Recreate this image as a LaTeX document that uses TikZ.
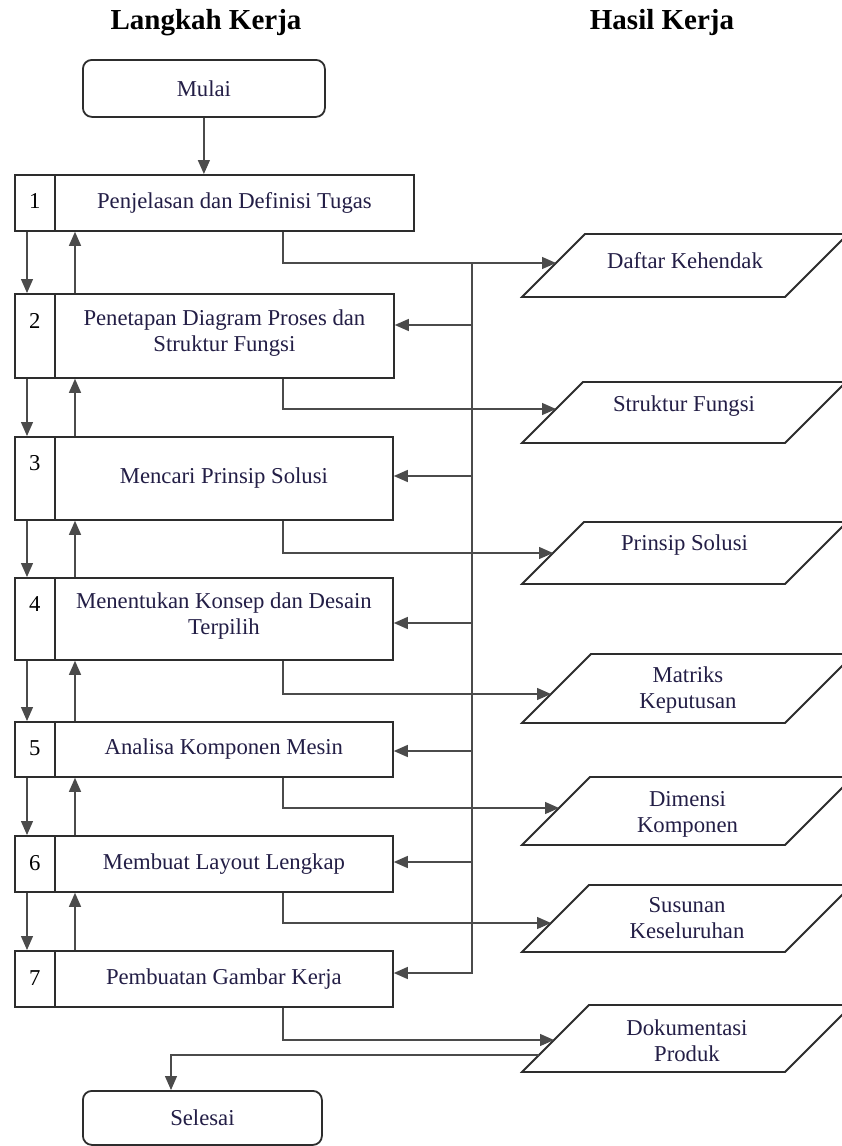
\documentclass[tikz,border=0pt]{standalone}
\usepackage{fontspec}
\setmainfont{Liberation Serif}
\usetikzlibrary{arrows.meta,calc}
\definecolor{txt}{RGB}{35,30,70}
\definecolor{ln}{RGB}{75,75,75}
\definecolor{bd}{RGB}{45,45,45}
\tikzset{
  boxline/.style={draw=bd, line width=1.8pt, line join=miter},
  bodyfont/.style={font=\fontsize{22.7}{26}\selectfont},
  numbox/.style={boxline, rectangle, minimum width=40pt, inner sep=0pt, anchor=north west, text=black, bodyfont},
  stepbox/.style={boxline, rectangle, inner sep=0pt, anchor=north west, align=center, text=txt, bodyfont},
  termbox/.style={boxline, rectangle, rounded corners=9pt, inner sep=0pt, anchor=north west, text=txt, bodyfont},
  htext/.style={align=center, text=txt, bodyfont},
  conn/.style={draw=ln, line width=1.3pt},
  arr/.style={conn, -{Triangle[length=14pt,width=12pt]}},
  titletext/.style={font=\fontsize{29}{34}\selectfont\bfseries, anchor=base, text=black},
}
\newcommand\hasil[6]{%
  \pgfmathsetmacro\hh{#3-#2}
  \draw[boxline] (522,#3) -- (785,#3) -- ({785+\hh},#2) -- ({522+\hh},#2) -- cycle;
  \node[htext] (#1) at ({(1307+\hh)/2},#4) {#6};
  \coordinate (#1in) at ({522+#3-#5},#5);
}
\newcommand\langkah[7]{% name, top, bottom, right, number, text, number text depth
  \node[numbox, minimum height={#3-#2}, text depth=#7] (n#1) at (14,#2) {#5};
  \node[stepbox, minimum width={#4-54}, minimum height={#3-#2}] (b#1) at (54,#2) {#6};
}
\begin{document}
\begin{tikzpicture}[x=1pt,y=-1pt]
\useasboundingbox[fill=white] (0,0) rectangle (842,1146);

\node[titletext] (t1) at (206,29) {Langkah Kerja};
\node[titletext] (t2) at (662,29) {Hasil Kerja};

\node[termbox, minimum width=242pt, minimum height=57pt] (mulai) at (82,59) {Mulai};

\langkah{1}{174}{230}{413}{1}{Penjelasan dan Definisi Tugas}{4pt}
\langkah{2}{293}{377}{393}{2}{Penetapan Diagram Proses dan\\Struktur Fungsi\rule[-10pt]{0pt}{0pt}}{30pt}
\langkah{3}{436}{519}{392}{3}{Mencari Prinsip Solusi}{30pt}
\langkah{4}{577}{659}{392}{4}{Menentukan Konsep dan Desain\\Terpilih\rule[-10pt]{0pt}{0pt}}{30pt}
\langkah{5}{721}{776}{392}{5}{Analisa Komponen Mesin}{2pt}
\langkah{6}{835}{891}{392}{6}{Membuat Layout Lengkap}{2pt}
\langkah{7}{950}{1006}{392}{7}{Pembuatan Gambar Kerja}{2pt}

\node[termbox, minimum width=239pt, minimum height=54pt] (selesai) at (82,1090) {Selesai};

\hasil{p1}{234}{297}{261}{263}{Daftar Kehendak}
\hasil{p2}{382}{443}{406}{409}{Struktur Fungsi}
\hasil{p3}{522}{584}{545}{553}{Prinsip Solusi}
\hasil{p4}{654}{723}{690}{694}{Matriks\\Keputusan}
\hasil{p5}{777}{845}{814}{808}{Dimensi\\Komponen}
\hasil{p6}{885}{952}{918}{923}{Susunan\\Keseluruhan}
\hasil{p7}{1005}{1072}{1041}{1040}{Dokumentasi\\Produk}
\coordinate (p7out) at (539,1055);
\coordinate (sx) at (171,1055);

\coordinate (ox) at (283,0);
\coordinate (bus) at (472,0);
\coordinate (dl) at (27,0);
\coordinate (ul) at (75,0);
\coordinate (a2) at (472,325);
\coordinate (a3) at (472,476);
\coordinate (a4) at (472,623);
\coordinate (a5) at (472,751);
\coordinate (a6) at (472,862);
\coordinate (a7) at (472,973);

% start
\draw[arr] (mulai.south) -- (mulai.south |- b1.north);

% outputs
\foreach \i in {1,...,7}{
  \draw[arr] (ox |- b\i.south) |- (p\i in);
}

% feedback bus
\draw[arr] (bus |- p1in) -- (a7) -- (a7 -| b7.east);
\foreach \i in {2,...,6}{
  \draw[arr] (a\i) -- (a\i -| b\i.east);
}

% left arrows
\foreach \i in {1,...,6}{
  \pgfmathtruncatemacro\j{\i+1}
  \draw[arr] (dl |- n\i.south) -- (dl |- n\j.north);
  \draw[arr] (ul |- b\j.north) -- (ul |- b\i.south);
}

% end
\draw[arr] (p7out) -- (sx) -- (sx |- selesai.north);
\end{tikzpicture}
\end{document}
